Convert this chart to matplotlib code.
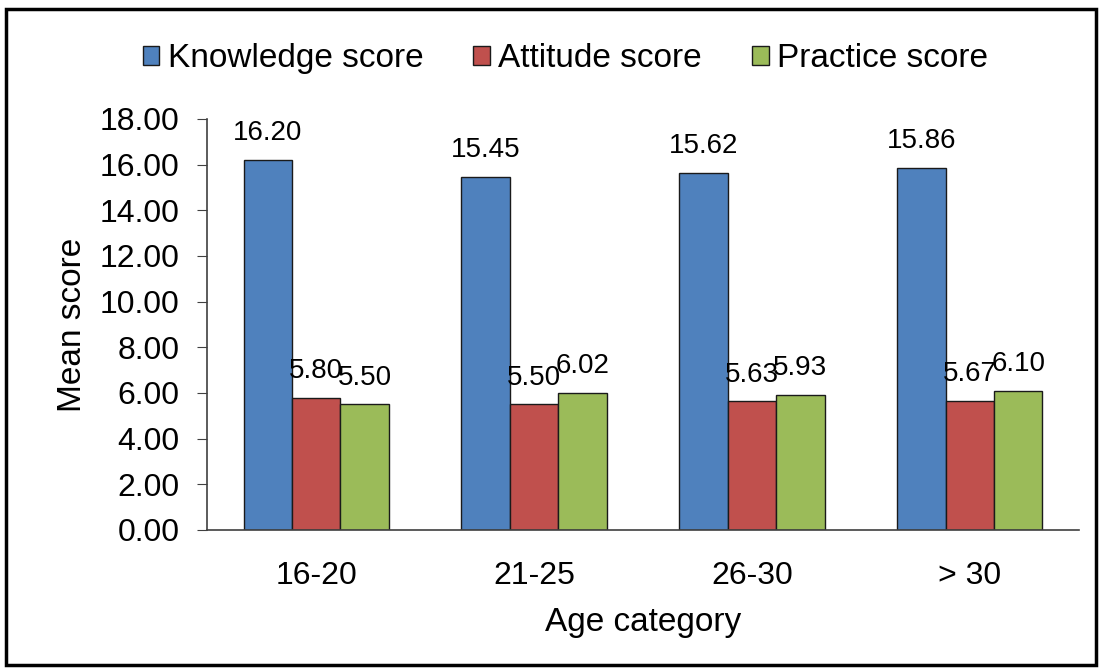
import numpy as np
import matplotlib.pyplot as plt
from matplotlib.patches import Rectangle

## data
categories = ["16-20", "21-25", "26-30", "> 30"]
knowledge = [16.20, 15.45, 15.62, 15.86]
attitude = [5.80, 5.50, 5.63, 5.67]
practice = [5.50, 6.02, 5.93, 6.10]
series_names = ["Knowledge score", "Attitude score", "Practice score"]
colors = ["#4F81BD", "#C0504D", "#9BBB59"]

plt.rcParams['font.family'] = ['Liberation Sans', 'DejaVu Sans']

fig = plt.figure(figsize=(11.02, 6.68), dpi=100)
ax = fig.add_axes([0.188, 0.2066, 0.791, 0.6153])

x = np.arange(len(categories))
width = 0.222
for i, (vals, name) in enumerate(zip([knowledge, attitude, practice], series_names)):
    pos = x + (i - 1) * width
    bars = ax.bar(pos, vals, width, color=colors[i], edgecolor="#1a1a1a",
                  linewidth=1.0, label=name)
    for b, v in zip(bars, vals):
        ax.annotate(f"{v:.2f}", (b.get_x() + b.get_width() / 2, v),
                    xytext=(0, 10), textcoords="offset points",
                    ha="center", va="bottom", fontsize=20)

ax.set_xlim(-0.5, 3.5)
ax.set_ylim(0, 18)
ax.set_yticks(np.arange(0, 18.01, 2))
ax.set_yticklabels([f"{v:.2f}" for v in np.arange(0, 18.01, 2)])
ax.set_xticks(x)
ax.set_xticklabels(categories)
ax.tick_params(axis="y", labelsize=23, length=7, color="#404040", pad=13)
ax.tick_params(axis="x", labelsize=23, length=0, pad=22)
for s in ["top", "right"]:
    ax.spines[s].set_visible(False)
for s in ["left", "bottom"]:
    ax.spines[s].set_color("#404040")
    ax.spines[s].set_linewidth(1.2)

ax.set_xlabel("Age category", fontsize=24, labelpad=12)
ax.set_ylabel("Mean score", fontsize=24, labelpad=8)

ax.legend(loc="center", bbox_to_anchor=(0.513, 0.912), bbox_transform=fig.transFigure,
          ncol=3, frameon=False, fontsize=24, handlelength=0.5, handleheight=0.5,
          handletextpad=0.25, columnspacing=1.5)

# outer frame around the whole picture
fig.patches.append(Rectangle((0.005, 0.004), 0.99, 0.983, transform=fig.transFigure,
                             fill=False, edgecolor="black", linewidth=2.5))

plt.savefig("out.png", dpi=100)
plt.close("all")
